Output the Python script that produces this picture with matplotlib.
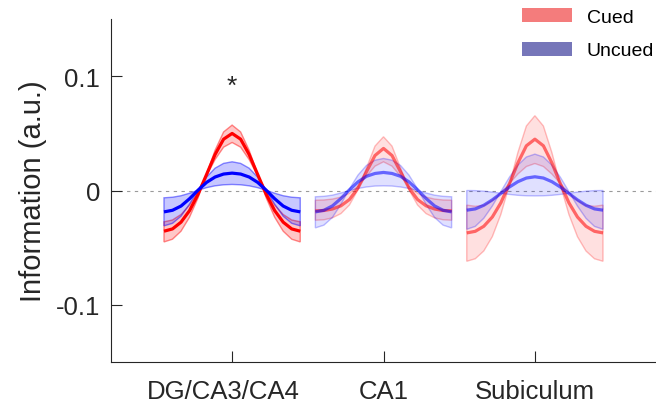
import numpy as np
import matplotlib.pyplot as plt
import matplotlib.transforms as mtransforms
from matplotlib.patches import Patch
from matplotlib.colors import to_rgba

plt.rcParams['font.family'] = ['Liberation Sans', 'DejaVu Sans']

# Regions on the x axis
regions = ['DG/CA3/CA4', 'CA1', 'Subiculum']

# Sampling angles of the tuning curves (deg)
angles = np.linspace(-180, 180, 17)

# DG/CA3/CA4 - cued (mean, upper-amplitude and lower-amplitude bounds)
dg_cued = [-0.0356, -0.0336, -0.0277, -0.0176, -0.0033, 0.0140, 0.0315, 0.0449, 0.0499,
           0.0449, 0.0315, 0.0140, -0.0033, -0.0176, -0.0277, -0.0336, -0.0356]
dg_cued_hi = [-0.0450, -0.0426, -0.0356, -0.0234, -0.0064, 0.0143, 0.0352, 0.0512, 0.0572,
              0.0512, 0.0352, 0.0143, -0.0064, -0.0234, -0.0356, -0.0426, -0.0450]
dg_cued_lo = [-0.0274, -0.0258, -0.0210, -0.0128, -0.0012, 0.0129, 0.0271, 0.0379, 0.0420,
              0.0379, 0.0271, 0.0129, -0.0012, -0.0128, -0.0210, -0.0258, -0.0274]
# DG/CA3/CA4 - uncued
dg_uncued = [-0.0187, -0.0173, -0.0136, -0.0072, 0.0003, 0.0071, 0.0118, 0.0144, 0.0152,
             0.0144, 0.0118, 0.0071, 0.0003, -0.0072, -0.0136, -0.0173, -0.0187]
dg_uncued_hi = [-0.0309, -0.0287, -0.0225, -0.0119, 0.0005, 0.0117, 0.0195, 0.0237, 0.0251,
                0.0237, 0.0195, 0.0117, 0.0005, -0.0119, -0.0225, -0.0287, -0.0309]
dg_uncued_lo = [-0.0064, -0.0059, -0.0046, -0.0024, 0.0002, 0.0025, 0.0041, 0.0050, 0.0053,
                0.0050, 0.0041, 0.0025, 0.0002, -0.0024, -0.0046, -0.0059, -0.0064]

# CA1 - cued
ca1_cued = [-0.0178, -0.0175, -0.0162, -0.0134, -0.0079, 0.0021, 0.0164, 0.0306, 0.0368,
            0.0306, 0.0164, 0.0021, -0.0079, -0.0134, -0.0162, -0.0175, -0.0178]
ca1_cued_hi = [-0.0260, -0.0256, -0.0239, -0.0202, -0.0127, 0.0006, 0.0197, 0.0388, 0.0470,
               0.0388, 0.0197, 0.0006, -0.0127, -0.0202, -0.0239, -0.0256, -0.0260]
ca1_cued_lo = [-0.0085, -0.0083, -0.0075, -0.0058, -0.0024, 0.0038, 0.0125, 0.0213, 0.0251,
               0.0213, 0.0125, 0.0038, -0.0024, -0.0058, -0.0075, -0.0083, -0.0085]
# CA1 - uncued
ca1_uncued = [-0.0187, -0.0173, -0.0135, -0.0070, 0.0006, 0.0075, 0.0124, 0.0149, 0.0158,
              0.0149, 0.0124, 0.0075, 0.0006, -0.0070, -0.0135, -0.0173, -0.0187]
ca1_uncued_hi = [-0.0327, -0.0303, -0.0236, -0.0121, 0.0013, 0.0134, 0.0219, 0.0265, 0.0280,
                 0.0265, 0.0219, 0.0134, 0.0013, -0.0121, -0.0236, -0.0303, -0.0327]
ca1_uncued_lo = [-0.0055, -0.0051, -0.0041, -0.0022, -0.0001, 0.0018, 0.0031, 0.0039, 0.0041,
                 0.0039, 0.0031, 0.0018, -0.0001, -0.0022, -0.0041, -0.0051, -0.0055]

# Subiculum - cued
sub_cued = [-0.0371, -0.0357, -0.0313, -0.0232, -0.0108, 0.0058, 0.0241, 0.0391, 0.0449,
            0.0391, 0.0241, 0.0058, -0.0108, -0.0232, -0.0313, -0.0357, -0.0371]
sub_cued_hi = [-0.0619, -0.0597, -0.0529, -0.0404, -0.0210, 0.0047, 0.0331, 0.0564, 0.0654,
               0.0564, 0.0331, 0.0047, -0.0210, -0.0404, -0.0529, -0.0597, -0.0619]
sub_cued_lo = [-0.0128, -0.0138, -0.0130, -0.0085, -0.0020, 0.0060, 0.0144, 0.0210, 0.0236,
               0.0210, 0.0144, 0.0060, -0.0020, -0.0085, -0.0130, -0.0138, -0.0128]
# Subiculum - uncued
sub_uncued = [-0.0172, -0.0161, -0.0129, -0.0082, -0.0026, 0.0030, 0.0077, 0.0109, 0.0120,
              0.0109, 0.0077, 0.0030, -0.0026, -0.0082, -0.0129, -0.0161, -0.0172]
sub_uncued_hi = [-0.0339, -0.0314, -0.0243, -0.0136, -0.0010, 0.0115, 0.0222, 0.0293, 0.0318,
                 0.0293, 0.0222, 0.0115, -0.0010, -0.0136, -0.0243, -0.0314, -0.0339]
sub_uncued_lo = [0.0000, -0.0001, -0.0006, -0.0014, -0.0024, -0.0034, -0.0042, -0.0046, -0.0047,
                 -0.0046, -0.0042, -0.0034, -0.0024, -0.0014, -0.0006, -0.0001, 0.0000]

cued = [(dg_cued, dg_cued_hi, dg_cued_lo),
        (ca1_cued, ca1_cued_hi, ca1_cued_lo),
        (sub_cued, sub_cued_hi, sub_cued_lo)]
uncued = [(dg_uncued, dg_uncued_hi, dg_uncued_lo),
          (ca1_uncued, ca1_uncued_hi, ca1_uncued_lo),
          (sub_uncued, sub_uncued_hi, sub_uncued_lo)]
significant = [True, False, False]

fig = plt.figure(figsize=(6.56, 4.14), dpi=100)
ax = fig.add_axes([111 / 656, 51 / 414, 545 / 656, 343 / 414])


def draw_curve(center, mean, hi, lo, color, faded):
    x = center + 0.45 * angles / 180
    a_line = 0.55 if faded else 1.0
    a_fill = 0.12 if faded else 0.22
    a_edge = 0.25 if faded else 0.45
    ax.fill(np.r_[x, x[::-1]], np.r_[hi, lo[::-1]],
            facecolor=to_rgba(color, a_fill), edgecolor=to_rgba(color, a_edge), lw=1)
    ax.plot(x, mean, color=color, alpha=a_line, lw=2.3, solid_capstyle='butt')


ax.axhline(0, color='#9a9a9a', lw=0.8, ls=(0, (3, 4)), zorder=0)

for i in range(len(regions)):
    faded = not significant[i]
    m, h, l = cued[i]
    draw_curve(i + 1, np.array(m), np.array(h), np.array(l), '#ff0000', faded)
    m, h, l = uncued[i]
    draw_curve(i + 1, np.array(m), np.array(h), np.array(l), '#0000ff', faded)
    if significant[i]:
        ax.text(i + 1, 0.0858, '*', ha='center', va='baseline', fontsize=19, color='#262626')

ax.set_xlim(0.2, 3.8)
ax.set_ylim(-0.15, 0.15)
ax.set_xticks([1, 2, 3], regions)
ax.set_yticks([-0.1, 0, 0.1], ['-0.1', '0', '0.1'])
ax.tick_params(direction='in', length=8, width=0.8, colors='#262626', labelsize=18.5)
ax.tick_params(axis='x', pad=12)
ax.tick_params(axis='y', pad=8)
for s in ['top', 'right']:
    ax.spines[s].set_visible(False)
for s in ['left', 'bottom']:
    ax.spines[s].set_color('#262626')
    ax.spines[s].set_linewidth(0.8)

# first region label sits a little left of its tick in the original
lab0 = ax.get_xticklabels()[0]
lab0.set_transform(lab0.get_transform() + mtransforms.ScaledTranslation(-9 / 100, 0, fig.dpi_scale_trans))

ax.set_ylabel('Information (a.u.)', fontsize=21, color='#262626')
ax.yaxis.set_label_coords(-0.118, 0.5)

handles = [Patch(facecolor='#f47c7c', edgecolor='none', label='Cued'),
           Patch(facecolor='#7676b9', edgecolor='none', label='Uncued')]
fig.legend(handles=handles, loc='upper left', bbox_to_anchor=(522 / 656, 1 - 9 / 414),
           frameon=False, fontsize=14, handlelength=2.58, handleheight=0.72,
           handletextpad=0.75, labelspacing=0.82, borderpad=0, borderaxespad=0)

fig.savefig('out.png', dpi=100)
